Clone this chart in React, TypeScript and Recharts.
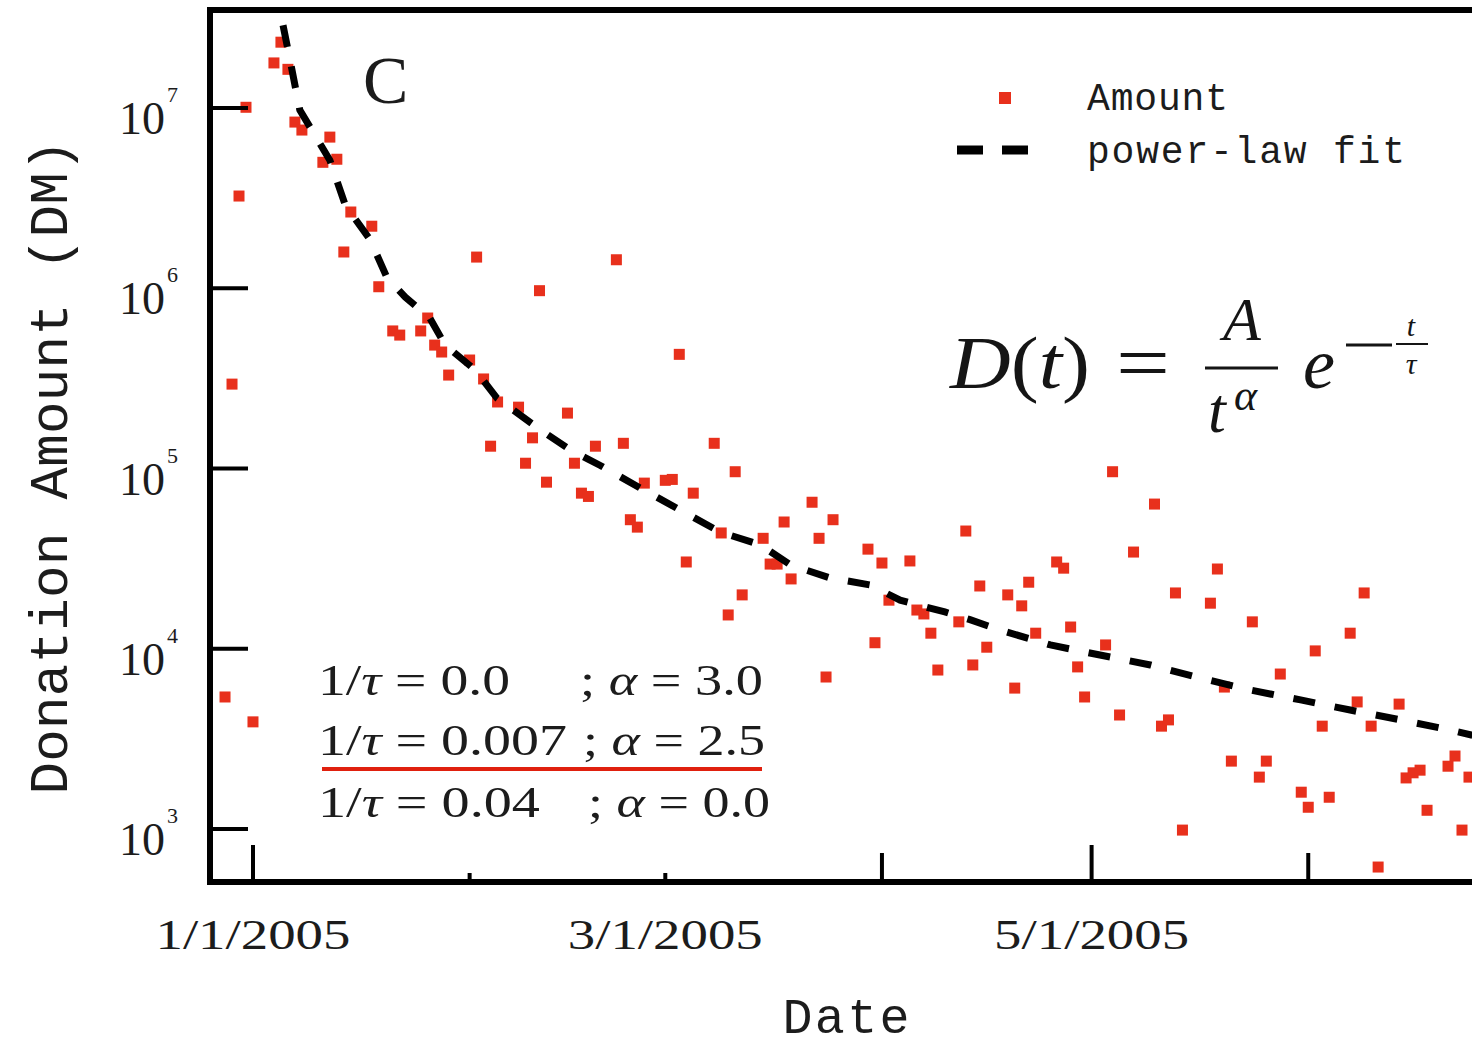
import React from 'react';
import { ScatterChart, Scatter, XAxis, YAxis, ReferenceArea, Legend, Label } from 'recharts';

// ---------- data ----------
// day offset from 1/1/2005
const amountDays = [
  -4, -3, -2, -1, 0, 3, 4, 5, 6, 7, 10, 11, 12, 13, 14, 17, 18, 20, 21, 24,
  25, 26, 27, 28, 31, 32, 33, 34, 35, 38, 39, 40, 41, 42, 45, 46, 47, 48, 49, 52,
  53, 54, 55, 56, 59, 60, 61, 62, 63, 66, 67, 68, 69, 70, 73, 74, 75, 76, 77, 80,
  81, 82, 83, 88, 89, 90, 91, 94, 95, 96, 97, 98, 101, 102, 103, 104, 105, 108, 109, 110,
  111, 112, 115, 116, 117, 118, 119, 122, 123, 124, 126, 129, 130, 131, 132, 133, 137, 138, 139, 140,
  143, 144, 145, 147, 150, 151, 152, 153, 154, 157, 158, 159, 160, 161, 164, 165, 166, 167, 168, 171,
  172, 173, 174,
];
const amountValues = [
  5400, 294000, 3250000, 10100000, 3930, 17800000, 23200000, 16400000, 8360000, 7550000,
  5000000, 6900000, 5200000, 1590000, 2650000, 2210000, 1020000, 580000, 550000, 580000,
  684000, 484000, 443000, 330000, 400000, 1490000, 314000, 133000, 234000, 219000,
  107000, 148000, 970000, 84000, 203000, 107000, 73000, 70000, 133000, 1440000,
  138000, 52000, 47300, 83000, 86000, 87000, 430000, 30300, 73000, 138000,
  43900, 15400, 96000, 19900, 41000, 29500, 29500, 50500, 24400, 65000,
  41000, 6970, 52000, 35700, 10800, 29900, 18600, 30700, 16400, 15600,
  12200, 7620, 14100, 45000, 8130, 22300, 10200, 19900, 6050, 17300,
  23400, 12200, 30300, 28000, 13200, 7930, 5400, 10500, 96000, 4290,
  34400, 63500, 3720, 4030, 20400, 986, 17900, 27700, 6130, 2380,
  14100, 1940, 2380, 7240, 1600, 1320, 9730, 3720, 1500, 12200,
  5070, 20400, 3720, 615, 4930, 1920, 2050, 2120, 1270, 2230,
  2540, 986, 1940,
];
const fitDays = [
  4.3, 5.3, 6.7, 11.0, 13.2, 16.8, 19.2, 21.8, 25.3, 27.5, 31.8, 34.9, 41.1, 45.4, 49.7,
  55.4, 61.1, 66.8, 72.6, 76.9, 82.6, 88.3, 92.6, 99.0, 102.6, 106.9, 114.1, 121.2, 128.4,
  135.5, 142.7, 149.9, 157.0, 164.2, 171.3, 174.5,
];
const fitValues = [
  28800000, 18500000, 9750000, 5140000, 2900000, 1850000, 1140000, 893000, 684000, 484000,
  352000, 246000, 164000, 127000, 104000, 78000, 58900, 44500, 37700, 29200, 24700, 22600,
  18600, 16000, 14500, 12700, 10500, 9230, 8130, 6890, 5900, 5200, 4570, 4030, 3540, 3310,
];
const seriesNames = ['Amount', 'power-law fit'];
const xTicks = [0, 31, 59, 90, 120, 151];
const xTickLabels = ['1/1/2005', '', '3/1/2005', '', '5/1/2005', ''];
const yTicks = [1000, 10000, 100000, 1000000, 10000000];
const yTickExponents = ['3', '4', '5', '6', '7'];
const xDomain = [-6.15, 181.3];
const yDomain = [508, 35000000];

// ---------- styles ----------
const RED = '#e8301c';
const INK = '#1c1c1c';
const xTickLengths = [37, 9, 9, 29, 37, 29];

const amountData = amountDays.map((d, i) => ({ x: d, y: amountValues[i] }));
const fitData = fitDays.map((d, i) => ({ x: d, y: fitValues[i] }));

const Square = (props: any) => {
  const { cx, cy } = props;
  if (cx == null || cy == null) return <g />;
  return <rect x={cx - 5.5} y={cy - 5.5} width={11} height={11} fill={RED} />;
};

const NoShape = () => <g />;

const XTick = (props: any) => {
  const { x, y, payload } = props;
  const i = xTicks.indexOf(payload.value);
  const len = xTickLengths[i] ?? 20;
  const label = xTickLabels[i] ?? '';
  return (
    <g>
      <line x1={x} x2={x} y1={y} y2={y - len} stroke="#000" strokeWidth={4} />
      {label ? (
        <text
          x={x}
          y={y + 67}
          textAnchor="middle"
          fontFamily="Liberation Serif"
          fontSize={42}
          fill={INK}
          textLength={195}
          lengthAdjust="spacingAndGlyphs"
        >
          {label}
        </text>
      ) : null}
    </g>
  );
};

const YTick = (props: any) => {
  const { x, y, payload } = props;
  const i = yTicks.indexOf(payload.value);
  return (
    <g>
      <line x1={x} x2={x + 38} y1={y} y2={y} stroke="#000" strokeWidth={4} />
      <text x={x - 45} y={y + 26} textAnchor="end" fontFamily="Liberation Serif" fontSize={46} fill={INK}>
        10
      </text>
      <text x={x - 43} y={y - 6} fontFamily="Liberation Serif" fontSize={22} fill={INK}>
        {yTickExponents[i]}
      </text>
    </g>
  );
};

const YTitle = (props: any) => {
  const vb = props.viewBox || { x: 0, y: 10, width: 210, height: 872 };
  const cy = vb.y + vb.height / 2 + 21;
  return (
    <text
      transform={`translate(67, ${cy}) rotate(-90)`}
      x={0}
      y={0}
      textAnchor="middle"
      fontFamily="Liberation Mono"
      fontSize={54}
      fill={INK}
      textLength={655}
      lengthAdjust="spacing"
    >
      Donation Amount (DM)
    </text>
  );
};

const XTitle = () => (
  <text
    x={846}
    y={1033}
    textAnchor="middle"
    fontFamily="Liberation Mono"
    fontSize={50}
    fill={INK}
    textLength={127}
    lengthAdjust="spacing"
  >
    Date
  </text>
);

const LegendContent = () => (
  <svg width={480} height={110} style={{ display: 'block' }}>
    <rect x={59} y={22} width={12} height={12} fill={RED} />
    <line x1={17} x2={43} y1={80} y2={80} stroke="#000" strokeWidth={9} />
    <line x1={62} x2={88} y1={80} y2={80} stroke="#000" strokeWidth={9} />
    <text x={147} y={40} fontFamily="Liberation Mono" fontSize={38} fill={INK} textLength={141} lengthAdjust="spacing">
      {seriesNames[0]}
    </text>
    <text x={147} y={93} fontFamily="Liberation Mono" fontSize={38} fill={INK} textLength={318} lengthAdjust="spacing">
      {seriesNames[1]}
    </text>
  </svg>
);

const Overlay = () => (
  <svg
    width={1472}
    height={1048}
    style={{ position: 'absolute', left: 0, top: 0, pointerEvents: 'none' }}
  >
    {/* panel letter */}
    <text x={363} y={103} fontFamily="Liberation Serif" fontSize={68} fill={INK}>C</text>

    {/* formula */}
    <g fontFamily="Liberation Serif" fill="#151515">
      <text x={950} y={388} fontSize={74} textLength={140} lengthAdjust="spacingAndGlyphs">
        <tspan fontStyle="italic">D</tspan>
        <tspan>(</tspan>
        <tspan fontStyle="italic">t</tspan>
        <tspan>)</tspan>
      </text>
      <text x={1116} y={390} fontSize={80} textLength={54} lengthAdjust="spacingAndGlyphs">=</text>
      <text x={1242} y={340} fontSize={62} fontStyle="italic" textAnchor="middle">A</text>
      <line x1={1205} x2={1278} y1={368} y2={368} stroke="#151515" strokeWidth={3} />
      <text x={1208} y={432} fontSize={64} fontStyle="italic">t</text>
      <text x={1234} y={410} fontSize={44} fontStyle="italic">α</text>
      <text x={1303} y={388} fontSize={72} fontStyle="italic">e</text>
      <line x1={1346} x2={1392} y1={345} y2={345} stroke="#151515" strokeWidth={3} />
      <text x={1411} y={336} fontSize={30} fontStyle="italic" textAnchor="middle">t</text>
      <line x1={1396} x2={1428} y1={344} y2={344} stroke="#151515" strokeWidth={2} />
      <text x={1411} y={374} fontSize={30} fontStyle="italic" textAnchor="middle">τ</text>
    </g>

    {/* fit parameters */}
    <g fontFamily="Liberation Serif" fontSize={44} fill={INK}>
      <text x={318} y={695} textLength={192} lengthAdjust="spacingAndGlyphs">
        1/<tspan fontStyle="italic">τ</tspan> = 0.0
      </text>
      <text x={580} y={695} textLength={183} lengthAdjust="spacingAndGlyphs">
        ; <tspan fontStyle="italic">α</tspan> = 3.0
      </text>
      <text x={318} y={755} textLength={249} lengthAdjust="spacingAndGlyphs">
        1/<tspan fontStyle="italic">τ</tspan> = 0.007
      </text>
      <text x={583} y={755} textLength={182} lengthAdjust="spacingAndGlyphs">
        ; <tspan fontStyle="italic">α</tspan> = 2.5
      </text>
      <text x={318} y={817} textLength={222} lengthAdjust="spacingAndGlyphs">
        1/<tspan fontStyle="italic">τ</tspan> = 0.04
      </text>
      <text x={588} y={817} textLength={182} lengthAdjust="spacingAndGlyphs">
        ; <tspan fontStyle="italic">α</tspan> = 0.0
      </text>
    </g>
    <line x1={322} x2={762} y1={769} y2={769} stroke="#e0200e" strokeWidth={4} />
  </svg>
);

export default function App() {
  return (
    <div
      style={{
        position: 'absolute',
        left: 0,
        top: 0,
        width: 1472,
        height: 1048,
        overflow: 'hidden',
        background: '#fff',
      }}
    >
      <ScatterChart width={1520} height={1048} margin={{ top: 10, right: 0, bottom: 0, left: 0 }}>
        <XAxis
          type="number"
          dataKey="x"
          domain={xDomain}
          allowDataOverflow
          ticks={xTicks}
          interval={0}
          height={166}
          tickSize={0}
          tickMargin={0}
          axisLine={false}
          tick={XTick}
        >
          <Label content={XTitle} />
        </XAxis>
        <YAxis
          type="number"
          dataKey="y"
          scale="log"
          domain={yDomain}
          allowDataOverflow
          ticks={yTicks}
          interval={0}
          width={210}
          tickSize={0}
          tickMargin={0}
          axisLine={false}
          tick={YTick}
        >
          <Label content={YTitle} />
        </YAxis>
        <ReferenceArea
          x1={xDomain[0]}
          x2={xDomain[1]}
          y1={yDomain[0]}
          y2={yDomain[1]}
          fill="none"
          fillOpacity={0}
          stroke="#000"
          strokeWidth={6}
          ifOverflow="visible"
        />
        <Scatter name={seriesNames[0]} data={amountData} fill={RED} shape={Square} isAnimationActive={false} />
        <Scatter
          name={seriesNames[1]}
          data={fitData}
          fill="#000"
          line={{ stroke: '#000', strokeWidth: 7, strokeDasharray: '22 20' }}
          lineType="joint"
          shape={NoShape}
          isAnimationActive={false}
        />
        <Legend
          layout="horizontal"
          align="center"
          verticalAlign="middle"
          content={LegendContent}
          wrapperStyle={{ position: 'absolute', left: 940, top: 70, width: 480, height: 110 }}
        />
      </ScatterChart>
      <Overlay />
    </div>
  );
}
